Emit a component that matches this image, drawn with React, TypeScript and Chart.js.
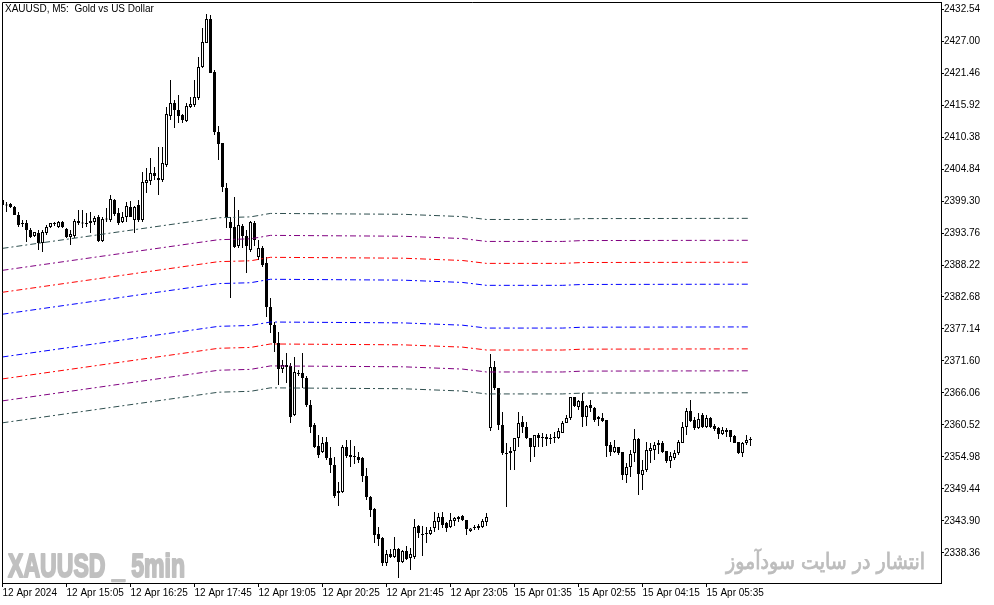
import React, { useEffect, useRef } from "react";
import { Chart, registerables } from "chart.js";

Chart.register(...registerables);

// XAUUSD M5 candles, index 0 = 12 Apr 13:45
const candleOpen = [
  2399.47, 2398.61, 2398.78, 2398.26, 2396.87, 2395.49, 2395.49, 2394.28, 2393.24, 2393.76,
  2392.03, 2393.76, 2394.80, 2395.49, 2394.80, 2395.66, 2394.45, 2393.07, 2393.24, 2395.84,
  2395.49, 2395.49, 2395.49, 2395.66, 2396.53, 2392.37, 2396.18, 2396.01, 2399.47, 2397.22,
  2395.66, 2396.53, 2398.26, 2396.01, 2398.61, 2396.01, 2402.41, 2402.76, 2404.15, 2403.28,
  2402.93, 2405.53, 2414.01, 2416.27, 2415.05, 2414.19, 2413.15, 2415.57, 2415.92, 2417.13,
  2422.50, 2426.65, 2430.81, 2421.63, 2411.24, 2409.34, 2401.55, 2395.66, 2394.80, 2391.51,
  2394.97, 2393.24, 2390.82, 2395.49, 2389.60, 2391.16, 2388.56, 2380.95, 2377.83, 2374.71,
  2370.21, 2370.90, 2370.73, 2362.25, 2369.52, 2369.52, 2368.66, 2363.98, 2360.52, 2356.88,
  2355.85, 2357.57, 2354.81, 2353.59, 2348.75, 2348.92, 2356.71, 2354.98, 2355.15, 2354.98,
  2354.81, 2351.69, 2348.05, 2345.97, 2341.65, 2340.96, 2336.63, 2338.19, 2337.67, 2339.05,
  2336.80, 2338.71, 2337.49, 2337.67, 2343.03, 2341.65, 2341.65, 2341.65, 2342.69, 2343.72,
  2344.59, 2343.55, 2342.86, 2343.90, 2344.24, 2344.76, 2344.07, 2342.17, 2342.69, 2342.69,
  2342.86, 2343.72, 2360.00, 2370.56, 2366.92, 2360.52, 2355.67, 2355.67, 2356.02, 2358.27,
  2361.04, 2360.17, 2358.27, 2356.71, 2358.79, 2358.44, 2358.44, 2358.10, 2358.27, 2358.27,
  2359.13, 2360.86, 2361.73, 2365.37, 2363.63, 2364.67, 2361.90, 2363.98, 2363.46, 2361.90,
  2361.73, 2361.38, 2357.06, 2355.85, 2356.71, 2355.85, 2351.86, 2353.25, 2355.67, 2358.10,
  2351.86, 2352.73, 2356.02, 2356.19, 2357.06, 2357.40, 2356.02, 2354.29, 2354.81, 2355.67,
  2357.40, 2360.17, 2362.94, 2361.38, 2360.00, 2362.25, 2360.17, 2361.73, 2360.34, 2360.00,
  2358.96, 2359.65, 2359.65, 2358.62, 2357.57, 2355.67, 2357.40, 2357.92,
];
const candleHigh = [
  2400.17, 2399.13, 2398.95, 2398.43, 2397.39, 2396.01, 2396.01, 2394.62, 2393.93, 2394.28,
  2394.28, 2395.14, 2395.49, 2395.66, 2395.84, 2395.84, 2394.62, 2394.28, 2396.18, 2397.74,
  2397.74, 2397.22, 2397.39, 2396.70, 2396.87, 2396.53, 2398.09, 2400.34, 2399.64, 2398.09,
  2397.39, 2399.13, 2399.30, 2398.43, 2399.47, 2404.32, 2405.01, 2406.74, 2405.19, 2408.65,
  2408.65, 2415.57, 2420.25, 2416.79, 2417.65, 2414.36, 2416.27, 2417.30, 2420.25, 2424.23,
  2429.25, 2431.67, 2431.50, 2421.98, 2412.28, 2409.34, 2402.41, 2396.53, 2399.99, 2397.74,
  2395.32, 2394.28, 2395.84, 2395.84, 2392.55, 2391.51, 2389.60, 2382.51, 2378.35, 2376.62,
  2371.77, 2372.98, 2371.25, 2372.29, 2370.04, 2372.98, 2369.00, 2364.85, 2360.86, 2358.79,
  2358.44, 2358.44, 2356.71, 2354.98, 2350.65, 2357.06, 2357.92, 2357.92, 2356.88, 2355.85,
  2354.98, 2353.08, 2348.23, 2346.15, 2342.86, 2341.13, 2338.88, 2339.05, 2341.13, 2339.22,
  2338.88, 2339.57, 2339.22, 2344.24, 2343.21, 2343.03, 2342.86, 2342.86, 2345.46, 2345.28,
  2345.46, 2343.72, 2345.28, 2344.59, 2344.76, 2344.94, 2344.07, 2342.69, 2343.21, 2343.38,
  2344.24, 2345.28, 2372.81, 2371.60, 2366.92, 2362.77, 2357.40, 2356.71, 2358.27, 2362.77,
  2362.07, 2361.04, 2358.27, 2358.79, 2359.13, 2359.13, 2358.96, 2358.96, 2359.31, 2360.00,
  2361.21, 2362.25, 2365.37, 2365.37, 2364.85, 2366.06, 2363.98, 2364.85, 2363.63, 2362.07,
  2362.59, 2361.38, 2357.57, 2357.92, 2356.71, 2355.85, 2353.94, 2356.19, 2359.83, 2358.27,
  2354.46, 2357.57, 2357.40, 2357.57, 2357.92, 2357.75, 2356.02, 2355.85, 2356.19, 2357.92,
  2361.04, 2363.46, 2364.85, 2361.90, 2362.59, 2362.59, 2362.25, 2361.90, 2360.69, 2360.17,
  2360.17, 2360.00, 2359.65, 2358.79, 2357.57, 2357.57, 2358.79, 2358.44,
];
const candleLow = [
  2398.43, 2397.39, 2398.09, 2396.87, 2394.80, 2394.80, 2392.20, 2392.89, 2393.07, 2390.82,
  2390.47, 2393.41, 2394.62, 2394.97, 2394.62, 2394.62, 2392.89, 2391.68, 2392.89, 2395.14,
  2394.62, 2394.80, 2393.76, 2395.14, 2392.20, 2392.20, 2395.66, 2395.66, 2396.70, 2395.14,
  2395.49, 2395.66, 2396.53, 2393.76, 2395.66, 2395.66, 2400.68, 2402.07, 2402.93, 2400.34,
  2402.59, 2405.19, 2413.32, 2411.94, 2412.80, 2412.80, 2412.98, 2415.40, 2415.57, 2416.79,
  2422.33, 2426.65, 2421.46, 2410.72, 2406.40, 2400.86, 2394.62, 2382.51, 2391.16, 2391.16,
  2391.16, 2386.83, 2390.47, 2391.51, 2389.08, 2387.87, 2379.21, 2376.45, 2373.16, 2367.44,
  2369.52, 2367.79, 2360.86, 2362.07, 2369.00, 2366.92, 2363.63, 2359.13, 2356.54, 2354.81,
  2355.67, 2354.46, 2352.21, 2347.88, 2346.49, 2348.75, 2354.81, 2353.25, 2353.77, 2353.94,
  2350.65, 2347.53, 2344.59, 2340.09, 2339.57, 2336.11, 2336.11, 2337.49, 2337.49, 2334.02,
  2336.63, 2337.15, 2335.41, 2337.32, 2340.96, 2337.84, 2340.09, 2341.47, 2342.00, 2342.34,
  2342.69, 2342.00, 2342.69, 2343.03, 2343.72, 2343.90, 2341.47, 2342.00, 2342.34, 2342.34,
  2342.69, 2343.03, 2359.48, 2366.58, 2359.65, 2355.32, 2346.32, 2352.73, 2352.73, 2356.71,
  2359.13, 2358.10, 2354.11, 2354.98, 2356.71, 2356.71, 2356.88, 2357.23, 2357.40, 2358.10,
  2359.13, 2360.86, 2361.38, 2363.63, 2363.11, 2360.17, 2360.34, 2362.77, 2361.04, 2360.34,
  2361.04, 2354.98, 2355.15, 2355.67, 2355.32, 2350.99, 2350.47, 2351.52, 2354.11, 2348.40,
  2349.27, 2352.38, 2353.94, 2354.46, 2355.50, 2355.67, 2353.94, 2353.08, 2354.46, 2355.32,
  2357.40, 2358.79, 2361.04, 2359.65, 2359.83, 2360.00, 2360.00, 2360.00, 2359.48, 2358.10,
  2358.79, 2358.44, 2357.57, 2357.40, 2355.50, 2354.98, 2357.06, 2356.88,
];
const candleClose = [
  2398.61, 2398.52, 2398.26, 2396.87, 2395.14, 2395.32, 2394.28, 2393.07, 2393.93, 2392.03,
  2393.93, 2394.80, 2395.49, 2395.32, 2395.66, 2394.80, 2393.07, 2393.59, 2395.84, 2395.49,
  2395.40, 2395.32, 2395.84, 2396.36, 2392.37, 2396.18, 2396.10, 2399.64, 2397.05, 2395.49,
  2396.53, 2398.43, 2396.53, 2398.26, 2396.01, 2402.59, 2402.93, 2404.15, 2403.63, 2402.93,
  2405.88, 2414.36, 2416.27, 2415.05, 2414.01, 2413.32, 2415.75, 2416.09, 2417.30, 2422.50,
  2426.83, 2430.81, 2421.46, 2411.24, 2409.17, 2401.72, 2396.53, 2394.62, 2391.33, 2395.14,
  2393.24, 2391.51, 2395.66, 2392.55, 2391.16, 2388.22, 2380.95, 2377.83, 2374.71, 2370.21,
  2370.90, 2370.56, 2361.90, 2369.69, 2369.35, 2368.66, 2363.98, 2360.17, 2356.71, 2355.32,
  2357.40, 2354.81, 2353.59, 2348.23, 2349.09, 2356.71, 2355.15, 2355.32, 2354.98, 2354.46,
  2351.69, 2348.05, 2345.80, 2341.47, 2340.78, 2336.63, 2338.19, 2337.67, 2339.05, 2336.80,
  2338.71, 2337.32, 2338.19, 2342.86, 2341.82, 2341.47, 2341.82, 2342.34, 2343.90, 2344.59,
  2343.21, 2342.69, 2344.07, 2344.42, 2344.59, 2344.07, 2342.51, 2342.60, 2342.86, 2343.03,
  2343.90, 2344.59, 2370.56, 2366.92, 2360.52, 2355.67, 2355.50, 2356.02, 2358.27, 2360.86,
  2360.17, 2358.27, 2356.71, 2358.79, 2358.27, 2358.27, 2358.10, 2358.27, 2358.44, 2359.48,
  2360.86, 2361.73, 2365.37, 2363.81, 2364.67, 2361.90, 2363.81, 2363.46, 2361.38, 2361.56,
  2361.21, 2356.88, 2355.85, 2356.71, 2355.67, 2351.86, 2353.25, 2355.50, 2358.10, 2352.04,
  2352.73, 2356.19, 2356.54, 2357.06, 2357.40, 2355.85, 2354.29, 2355.15, 2355.67, 2357.57,
  2360.17, 2362.94, 2361.21, 2360.00, 2361.56, 2360.17, 2361.73, 2360.17, 2359.83, 2358.96,
  2359.65, 2359.31, 2358.44, 2357.40, 2355.67, 2357.40, 2357.92, 2358.10,
];

const xTickIndex = [0, 16, 32, 48, 64, 80, 96, 112, 128, 144, 160, 176];
const xTickLabels = [
  "12 Apr 2024", "12 Apr 15:05", "12 Apr 16:25", "12 Apr 17:45", "12 Apr 19:05", "12 Apr 20:25",
  "12 Apr 21:45", "12 Apr 23:05", "15 Apr 01:35", "15 Apr 02:55", "15 Apr 04:15", "15 Apr 05:35",
];
const yTickValues = [
  2432.54, 2427.0, 2421.46, 2415.92, 2410.38, 2404.84, 2399.3, 2393.76, 2388.22,
  2382.68, 2377.14, 2371.6, 2366.06, 2360.52, 2354.98, 2349.44, 2343.9, 2338.36,
];

// envelope centre line (moving average) read at these candle indices
const maIndex = [0, 54, 62, 67, 100, 115, 121, 140, 145, 187];
const maValues = [2376.0, 2381.3, 2381.45, 2382.05, 2381.9, 2381.5, 2381.0, 2381.0, 2381.15, 2381.2];
// envelope deviations (price units), inner to outer
const bandOffsets = [3.7, 7.5, 11.3, 15.1];
const bandColors = ["#0000FF", "#FF0000", "#800080", "#2F4F4F"];

const titleText = "XAUUSD, M5:  Gold vs US Dollar";
const watermarkText = "XAUUSD _ 5min";
const persianText = "انتشار در سایت سودآموز";

const FONT = "'Liberation Sans', Arial, sans-serif";

const decorPlugin = {
  id: "decor",
  beforeDatasetsDraw(chart: any) {
    const { ctx, chartArea: a } = chart;
    ctx.save();
    ctx.fillStyle = "#c0c0c0";
    ctx.strokeStyle = "#c0c0c0";
    ctx.lineWidth = 2;
    ctx.lineJoin = "round";
    ctx.font = `bold 33px ${FONT}`;
    ctx.textBaseline = "alphabetic";
    ctx.textAlign = "left";
    const ww = ctx.measureText(watermarkText).width;
    ctx.translate(a.left + 6, 577);
    ctx.scale(177 / ww, 1);
    ctx.strokeText(watermarkText, 0, 0);
    ctx.fillText(watermarkText, 0, 0);
    ctx.restore();

    ctx.save();
    ctx.fillStyle = "#bdbdbd";
    ctx.strokeStyle = "#bdbdbd";
    ctx.lineWidth = 0.8;
    ctx.font = "22px 'DejaVu Sans', sans-serif";
    ctx.textBaseline = "alphabetic";
    ctx.textAlign = "right";
    const pw = ctx.measureText(persianText).width;
    ctx.translate(925, 569);
    ctx.scale(199 / pw, 1);
    ctx.strokeText(persianText, 0, 0);
    ctx.fillText(persianText, 0, 0);
    ctx.restore();
  },
  afterDraw(chart: any) {
    const { ctx, chartArea: a } = chart;
    ctx.save();
    ctx.strokeStyle = "#000";
    ctx.lineWidth = 1;
    ctx.beginPath();
    ctx.moveTo(a.left + 0.5, a.bottom);
    ctx.lineTo(a.left + 0.5, a.top - 0.5);
    ctx.lineTo(a.right + 1, a.top - 0.5);
    ctx.stroke();
    ctx.fillStyle = "#000";
    ctx.font = `10px ${FONT}`;
    ctx.textAlign = "left";
    ctx.textBaseline = "alphabetic";
    ctx.fillText(titleText, a.left + 3, 12);
    ctx.restore();
  },
};

export default function App() {
  const ref = useRef<HTMLCanvasElement>(null);

  useEffect(() => {
    const canvas = ref.current;
    if (!canvas) return;
    const idx = candleOpen.map((_, i) => i);
    const wicks = idx.map((i) => ({ x: i, y: [candleLow[i], candleHigh[i]] }));
    const bodies = idx.map((i) => ({ x: i, y: [candleOpen[i], candleClose[i]] }));
    const bodyFill = idx.map((i) => (candleClose[i] >= candleOpen[i] ? "#FFFFFF" : "#000000"));

    const lineSets: any[] = [];
    bandOffsets.forEach((off, k) => {
      [1, -1].forEach((sgn) => {
        lineSets.push({
          type: "line",
          data: maIndex.map((ix, j) => ({ x: ix, y: maValues[j] + sgn * off })),
          borderColor: bandColors[k],
          borderWidth: 1,
          borderDash: [6, 3, 2, 3],
          pointRadius: 0,
          fill: false,
          tension: 0,
          order: 0,
        });
      });
    });

    const chart = new Chart(canvas, {
      type: "bar",
      data: {
        datasets: [
          ...lineSets,
          {
            type: "bar",
            data: wicks as any,
            backgroundColor: "#000000",
            borderWidth: 0,
            barThickness: 1,
            grouped: false,
            inflateAmount: 0,
            minBarLength: 1,
            order: 2,
          },
          {
            type: "bar",
            data: bodies as any,
            backgroundColor: bodyFill,
            borderColor: "#000000",
            borderWidth: 1,
            borderSkipped: false,
            barThickness: 3,
            grouped: false,
            inflateAmount: 0,
            minBarLength: 1,
            order: 1,
          },
        ] as any,
      },
      options: {
        animation: false,
        responsive: false,
        devicePixelRatio: 1,
        events: [],
        layout: { padding: { left: 2, top: 3, right: 0, bottom: 0 } },
        plugins: { legend: { display: false }, tooltip: { enabled: false }, title: { display: false } },
        scales: {
          x: {
            type: "linear",
            min: -0.125,
            max: 234.625,
            bounds: "data",
            offset: false,
            grid: { display: true, drawOnChartArea: false, drawTicks: true, tickLength: 4, color: "#000", offset: false },
            border: { display: true, color: "#000", width: 1 },
            ticks: {
              autoSkip: false,
              maxRotation: 0,
              minRotation: 0,
              align: "start",
              padding: 0,
              color: "#000",
              font: { family: FONT, size: 10 },
              callback: (v: any) => {
                const k = xTickIndex.indexOf(Number(v));
                return k >= 0 ? xTickLabels[k] : "";
              },
            },
            afterBuildTicks: (scale: any) => {
              scale.ticks = xTickIndex.map((v) => ({ value: v }));
            },
            afterFit: (scale: any) => {
              scale.height = 22;
              scale.paddingLeft = 0;
              scale.paddingRight = 0;
              scale.paddingTop = 0;
              scale.paddingBottom = 0;
            },
          },
          y: {
            type: "linear",
            position: "right",
            min: 2333.166,
            max: 2433.579,
            bounds: "data",
            beginAtZero: false,
            grid: { display: true, drawOnChartArea: false, drawTicks: true, tickLength: 3, color: "#000" },
            border: { display: true, color: "#000", width: 1 },
            ticks: {
              autoSkip: false,
              padding: 0,
              color: "#000",
              font: { family: FONT, size: 10 },
              callback: (v: any) => Number(v).toFixed(2),
            },
            afterBuildTicks: (scale: any) => {
              scale.ticks = yTickValues.map((v) => ({ value: v }));
            },
            afterFit: (scale: any) => {
              scale.width = 53;
              scale.paddingLeft = 0;
              scale.paddingRight = 0;
              scale.paddingTop = 0;
              scale.paddingBottom = 0;
            },
          },
        },
      } as any,
      plugins: [decorPlugin],
    });

    return () => {
      chart.destroy();
    };
  }, []);

  return (
    <div style={{ position: "fixed", left: 0, top: 0, width: 994, height: 605, background: "#fff" }}>
      <canvas ref={ref} width={994} height={605} style={{ display: "block", width: 994, height: 605 }} />
    </div>
  );
}
